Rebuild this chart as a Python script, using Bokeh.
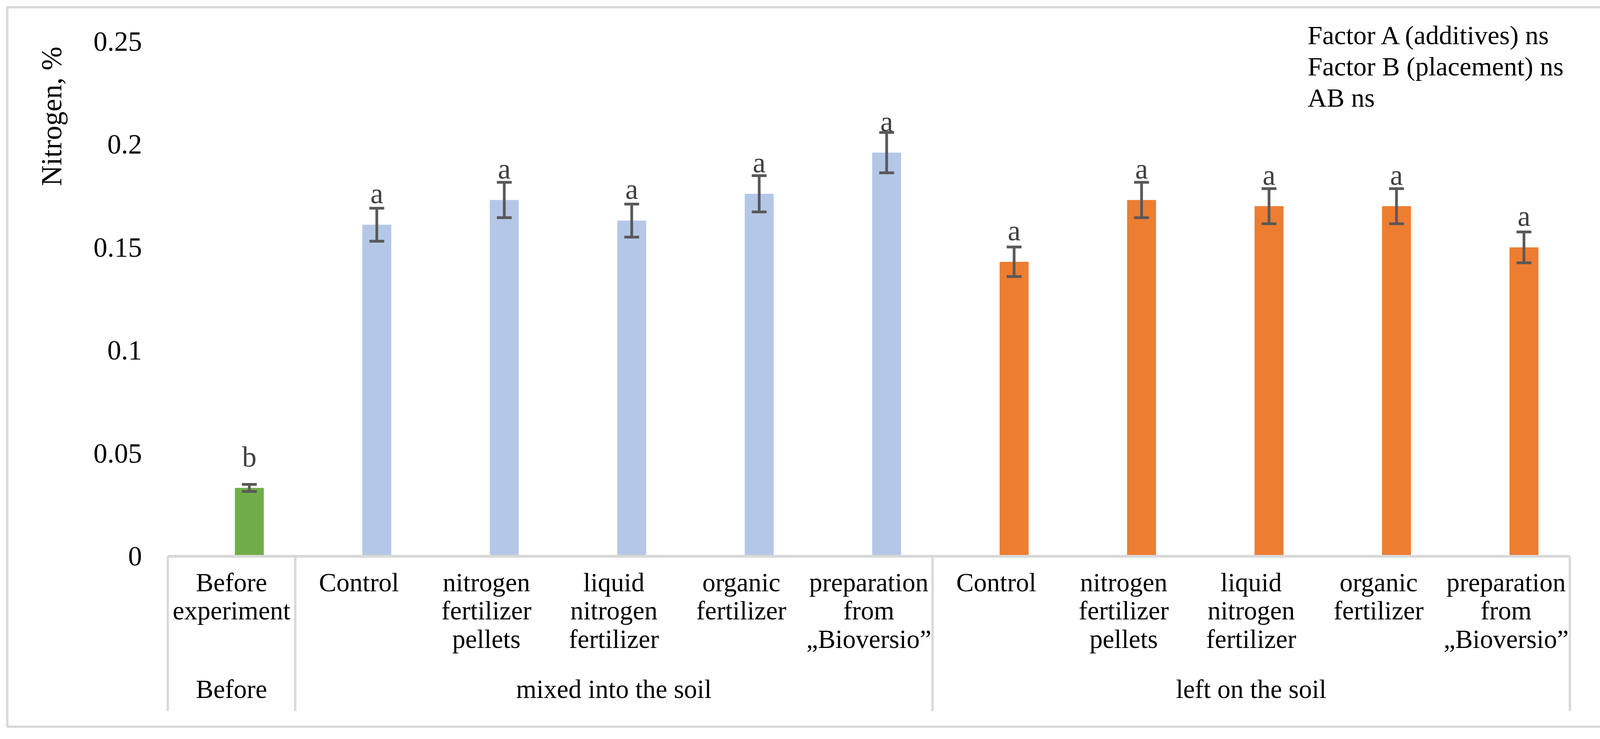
from bokeh.plotting import figure
from bokeh.models import (ColumnDataSource, Range1d, FixedTicker, Whisker, TeeHead)
from bokeh.core.properties import value
from bokeh.embed import file_html
from bokeh.resources import INLINE
import math

# ---------------- data ----------------
groups = ["Before", "mixed into the soil", "left on the soil"]
group_sizes = [1, 5, 5]
group_colors = ["#70AD47", "#B4C7E7", "#ED7D31"]
categories = [
    "Before\nexperiment",
    "Control", "nitrogen\nfertilizer\npellets", "liquid\nnitrogen\nfertilizer",
    "organic\nfertilizer", "preparation\nfrom\n\u201eBioversio\u201d",
    "Control", "nitrogen\nfertilizer\npellets", "liquid\nnitrogen\nfertilizer",
    "organic\nfertilizer", "preparation\nfrom\n\u201eBioversio\u201d",
]
nitrogen = [0.0332, 0.161, 0.173, 0.163, 0.176, 0.196, 0.143, 0.173, 0.170, 0.170, 0.150]
errors = [0.0017, 0.008, 0.0086, 0.008, 0.0088, 0.0098, 0.0072, 0.0086, 0.0085, 0.0085, 0.0075]
letters = ["b", "a", "a", "a", "a", "a", "a", "a", "a", "a", "a"]
y_ticks = [0, 0.05, 0.1, 0.15, 0.2, 0.25]
y_tick_labels = ["0", "0.05", "0.1", "0.15", "0.2", "0.25"]
y_title = "Nitrogen, %"
stats_lines = ["Factor A (additives) ns", "Factor B (placement) ns", "AB ns"]

# ---------------- layout (pixels) ----------------
W, H = 4130, 1875
PAGE_OFF = 8
TABLE_LEFT = 437.0      # page px of category table left edge
CAT_W = 326.3           # px per category
ZERO_Y = 1431.0         # page px of value 0
PX_PER_UNIT = 5270.0    # px per 1.0 of value
BAR_SHIFT = 0.14        # bars sit right of category centre
BAR_W = 0.227
FONT = "Liberation Serif"
GRID = "#D9D9D9"


def px_x(px):
    return (px - TABLE_LEFT) / CAT_W


def px_y(py):
    return (ZERO_Y - py) / PX_PER_UNIT


p = figure(width=W, height=H, output_backend="svg", toolbar_location=None,
           x_range=Range1d(px_x(PAGE_OFF), px_x(PAGE_OFF + W)),
           y_range=Range1d(px_y(PAGE_OFF + H), px_y(PAGE_OFF)),
           min_border=0, outline_line_color=None,
           background_fill_color="white", border_fill_color="white")
p.xaxis.visible = False
p.xgrid.visible = False
p.ygrid.visible = False

# y axis drawn inside the frame
yax = p.yaxis[0]
yax.ticker = FixedTicker(ticks=y_ticks)
yax.major_label_overrides = dict(zip(y_ticks, y_tick_labels))
yax.fixed_location = px_x(371)
yax.major_label_standoff = 0
yax.major_tick_out = 0
yax.major_tick_in = 0
yax.axis_line_color = None
yax.major_tick_line_color = None
yax.minor_tick_line_color = None
yax.major_label_text_font = FONT
yax.major_label_text_font_size = "71px"
yax.major_label_text_color = "black"

# category positions
n = len(categories)
cat_centers = [i + 0.5 for i in range(n)]
bar_x = [c + BAR_SHIFT for c in cat_centers]
colors = []
for g, s in enumerate(group_sizes):
    colors += [group_colors[g]] * s

src = ColumnDataSource(dict(
    x=bar_x, top=nitrogen, color=colors,
    upper=[v + e for v, e in zip(nitrogen, errors)],
    lower=[v - e for v, e in zip(nitrogen, errors)],
    letter=letters,
))

p.vbar(x="x", top="top", bottom=0, width=BAR_W, color="color", line_color=None, source=src)

whisk = Whisker(base="x", upper="upper", lower="lower", source=src,
                line_color="#595959", line_width=7, level="overlay",
                upper_head=TeeHead(size=38, line_color="#595959", line_width=7),
                lower_head=TeeHead(size=38, line_color="#595959", line_width=7))
p.add_layout(whisk)

p.text(x="x", y="top", text="letter", source=src, y_offset=-80,
       text_align="center", text_baseline="alphabetic",
       text_font=value(FONT), text_font_size="74px", text_color="#404040")

# category table lines
bounds = [0]
for s in group_sizes:
    bounds.append(bounds[-1] + s)
table_bottom = px_y(1827)
p.segment(x0=[0], y0=[0], x1=[n], y1=[0], line_color=GRID, line_width=7)
p.segment(x0=bounds, y0=[0] * len(bounds), x1=bounds, y1=[table_bottom] * len(bounds),
          line_color=GRID, line_width=6)

# category labels
p.text(x=cat_centers, y=[px_y(1460)] * n, text=categories,
       text_align="center", text_baseline="top", text_line_height=0.985,
       text_font=value(FONT), text_font_size="67px", text_color="black")

# group labels
group_centers = [(bounds[i] + bounds[i + 1]) / 2 for i in range(len(groups))]
p.text(x=group_centers, y=[px_y(1770)] * len(groups), text=groups,
       text_align="center", text_baseline="alphabetic",
       text_font=value(FONT), text_font_size="67px", text_color="black")

# y title
p.text(x=[px_x(140)], y=[px_y(305)], text=[y_title], angle=math.pi / 2,
       text_align="center", text_baseline="alphabetic",
       text_font=value(FONT), text_font_size="73px", text_color="black")

# statistics note
p.text(x=[px_x(3355)] * len(stats_lines),
       y=[px_y(97 + 80 * k) for k in range(len(stats_lines))],
       text=stats_lines, text_align="left", text_baseline="alphabetic",
       text_font=value(FONT), text_font_size="68px", text_color="black")

# outer chart border
p.quad(left=[px_x(26)], right=[px_x(4118)], top=[px_y(26)], bottom=[px_y(1867)],
       fill_color=None, line_color=GRID, line_width=6)

open("out.html", "w").write(file_html(p, INLINE))
